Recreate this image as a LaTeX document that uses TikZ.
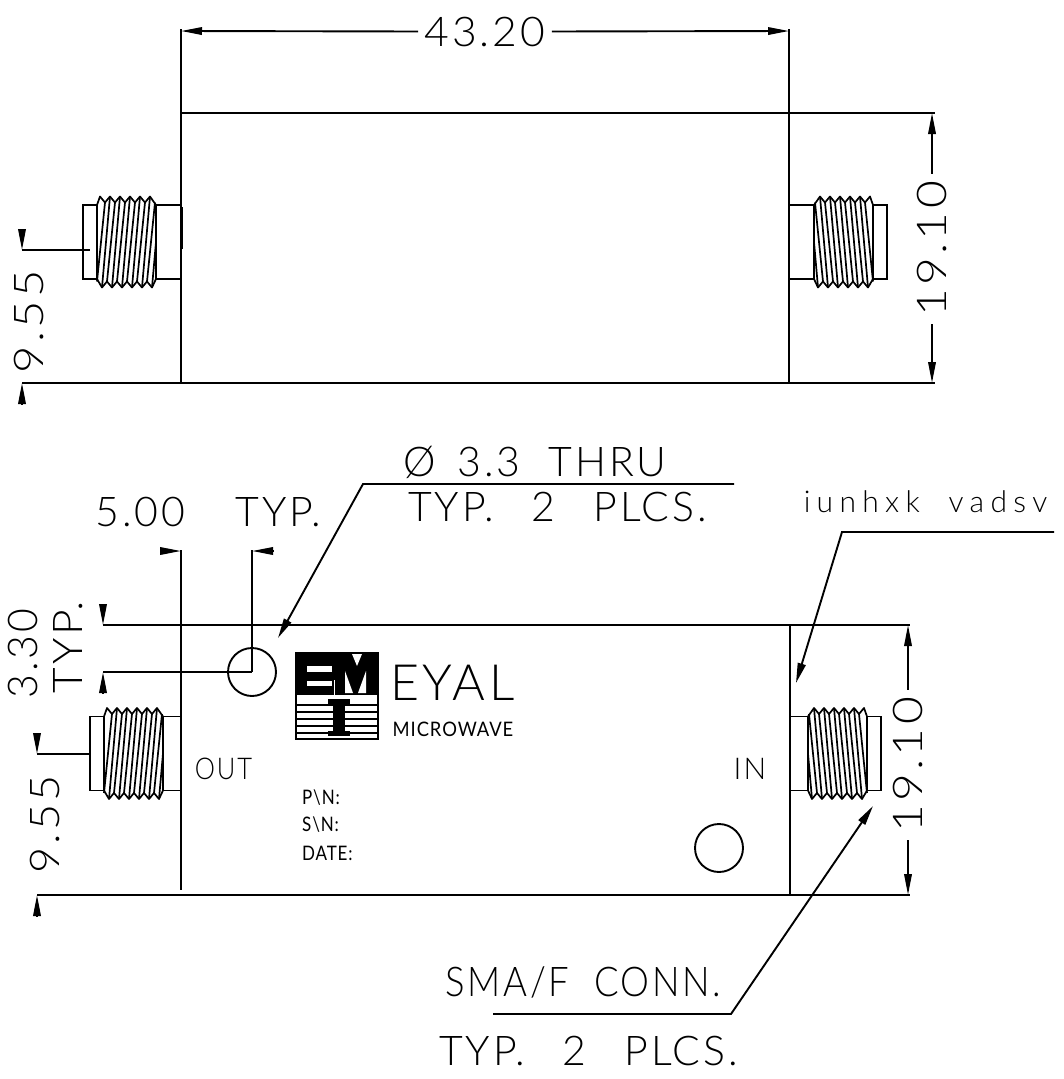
\documentclass[tikz,border=0pt]{standalone}
\usepackage{fontspec}
\newfontfamily\cadfont[LetterSpace=7]{Lato Light}
\newfontfamily\cadwide[LetterSpace=21]{Lato Light}
\newfontfamily\cadsmall[LetterSpace=5]{Lato}
\usetikzlibrary{arrows.meta}
\tikzset{
    part/.style = {
        line width=1.9pt,
        },
    thread/.style = {
        line width=1.7pt,
        },
    dim/.style = {
        line width=1.9pt,
        -{Triangle[length=21pt,width=7.5pt]},
        },
    leader/.style = {
        line width=1.9pt,
        -{Triangle[length=20pt,width=8pt]},
        },
    big label/.style = {
        font=\cadfont\fontsize{41}{41}\selectfont,
        inner ysep=0pt,
        inner xsep=6pt,
        text depth=0pt,
        },
    mid label/.style = {
        font=\cadfont\fontsize{30}{30}\selectfont,
        inner sep=0pt,
        text depth=0pt,
        },
    small label/.style = {
        font=\cadsmall\fontsize{20}{20}\selectfont,
        inner sep=0pt,
        text depth=0pt,
        },
    sma conn/.pic = {
        \draw[part] (-14,-37) rectangle (0,37);
        \draw[part] (59,-37) -- (#1,-37);
        \draw[part] (59,37) -- (#1,37);
        \draw[thread,line join=round] (0,-37) -- (3,-45.5)
            \foreach \i in {0,...,4} {-- ({8+10*\i},-39.5) -- ({13+10*\i},-45.5)} -- (59,-37);
        \draw[thread,line join=round] (0,37) -- (5,45.5)
            \foreach \i in {0,...,4} {-- ({10+10*\i},39.5) -- ({15+10*\i},45.5)} -- (59,37);
        \foreach \i in {0,...,4} {
            \draw[thread] ({5+10*\i},45.5) -- ({13+10*\i},-45.5);
        }
        \foreach \i in {0,...,5} {
            \draw[thread] ({0+10*\i},39.5) -- ({8+10*\i},-39.5);
        }
        \draw[thread] (55,45.5) -- (59,0);
        \draw[line width=2.6pt] (0,-37) -- (0,37);
        \draw[line width=2.6pt] (59,-37) -- (59,37);
    },
}
\begin{document}
\begin{tikzpicture}[x=1pt,y=-1pt]
    \useasboundingbox (0,0) rectangle (1064,1079);

    % top view
    \draw[part] (181,29) -- (181,383);
    \draw[part] (789,29) -- (789,383);
    \draw[part] (181,113) -- (935,113);
    \draw[part] (22,383) -- (935,383);
    \draw[line width=3pt] (181,207) -- (181,249);
    \pic at (97,242) {sma conn=84};
    \pic[xscale=-1] at (873,242) {sma conn=84};

    \node[big label,xscale=1.04] (widthTop) at (485,31.5) {43.20};
    \coordinate (widthTopL) at (181,31);
    \coordinate (widthTopR) at (789,31);
    \draw[dim] (widthTop.west) -- (widthTopL);
    \draw[dim] (widthTop.east) -- (widthTopR);

    \node[big label,rotate=90,xscale=1.17] (heightTop) at (932,249) {19.10};
    \coordinate (heightTopU) at (932,113);
    \coordinate (heightTopD) at (932,383);
    \draw[dim] (heightTop.east) -- (heightTopU);
    \draw[dim] (heightTop.west) -- (heightTopD);

    \node[big label,rotate=90,xscale=1.15] (midTop) at (29,322) {9.55};
    \coordinate (midTopA) at (22,229);
    \coordinate (midTopB) at (22,250);
    \coordinate (midTopC) at (22,404);
    \coordinate (midTopD) at (22,383);
    \draw[dim] (midTopA) -- (midTopB);
    \draw[part] (midTopB) -- (90,250);
    \draw[dim] (midTopC) -- (midTopD);

    % bottom view
    \draw[part] (181,550) -- (181,890);
    \draw[part] (252,550) -- (252,672);
    \draw[part] (790,625) -- (790,895);
    \draw[part] (103,625) -- (910,625);
    \draw[part] (103,672) -- (252,672);
    \draw[part] (37,895) -- (910,895);
    \draw[part] (252,672) circle (24);
    \draw[part] (719,848) circle (24);
    \pic at (104,753.5) {sma conn=77};
    \pic[xscale=-1] at (867,753.5) {sma conn=77};

    \node[big label] (holePitch) at (208.5,512) {5.00\hspace{23pt}~~TYP.};
    \coordinate (holePitchA) at (160,551);
    \coordinate (holePitchB) at (181,551);
    \coordinate (holePitchC) at (273,551);
    \coordinate (holePitchD) at (252,551);
    \draw[dim] (holePitchA) -- (holePitchB);
    \draw[dim] (holePitchC) -- (holePitchD);

    \node[big label,rotate=90] (holeEdge) at (23,653.5) {3.30};
    \node[big label,rotate=90,xscale=1.08] (holeEdgeTyp) at (68,647) {TYP.};
    \coordinate (holeEdgeA) at (103,604);
    \coordinate (holeEdgeB) at (103,625);
    \coordinate (holeEdgeC) at (103,693);
    \coordinate (holeEdgeD) at (103,672);
    \draw[dim] (holeEdgeA) -- (holeEdgeB);
    \draw[dim] (holeEdgeC) -- (holeEdgeD);

    \node[big label,rotate=90,xscale=1.1] (midLow) at (45,824.5) {9.55};
    \coordinate (midLowA) at (37,733);
    \coordinate (midLowB) at (37,754);
    \coordinate (midLowC) at (37,916);
    \coordinate (midLowD) at (37,895);
    \draw[dim] (midLowA) -- (midLowB);
    \draw[part] (midLowB) -- (90,754);
    \draw[dim] (midLowC) -- (midLowD);

    \node[big label,rotate=90,xscale=1.17] (heightLow) at (908,765) {19.10};
    \coordinate (heightLowU) at (908,625);
    \coordinate (heightLowD) at (908,895);
    \draw[dim] (heightLow.east) -- (heightLowU);
    \draw[dim] (heightLow.west) -- (heightLowD);

    % leaders
    \node[big label] (holeNote) at (535,461) {Ø\hspace{22pt}3.3~~THRU};
    \node[big label] (holeNoteTyp) at (557.5,507) {TYP.~~\hspace{10pt}2~~\hspace{10pt}PLCS.};
    \coordinate (holeLeadR) at (734,484);
    \coordinate (holeLeadK) at (363,484);
    \coordinate (holeLeadT) at (278,638);
    \draw[leader] (holeLeadR) -- (holeLeadK) -- (holeLeadT);

    \node[mid label,font=\cadwide\fontsize{30}{30}\selectfont] (sealNote) at (925.5,501.5) {iunhxk~~vadsv};
    \coordinate (sealLeadR) at (1054,532);
    \coordinate (sealLeadK) at (842,532);
    \coordinate (sealLeadT) at (796,683);
    \draw[leader] (sealLeadR) -- (sealLeadK) -- (sealLeadT);

    \node[big label,xscale=0.89] (connNote) at (583.5,982) {SMA/F~~CONN.};
    \node[big label] (connNoteTyp) at (588.5,1051) {TYP.~~\hspace{10pt}2~~\hspace{10pt}PLCS.};
    \coordinate (connLeadL) at (493,1014);
    \coordinate (connLeadK) at (731,1014);
    \coordinate (connLeadT) at (873,806);
    \draw[leader] (connLeadL) -- (connLeadK) -- (connLeadT);

    % plate text
    \node[mid label,xscale=0.85] (outLabel) at (223.5,769) {OUT};
    \node[mid label] (inLabel) at (750,769) {IN};
    \node[big label,font=\cadfont\fontsize{50}{50}\selectfont,inner xsep=0pt] (eyalLabel) at (452.5,683) {EYAL};
    \node[small label,xscale=0.92] (mwLabel) at (453,729) {MICROWAVE};
    \node[small label,anchor=west,xscale=0.85] (pnLabel) at (302,797.5) {P\textbackslash N:};
    \node[small label,anchor=west,xscale=0.85] (snLabel) at (302,824) {S\textbackslash N:};
    \node[small label,anchor=west,xscale=0.85] (dateLabel) at (302,853) {DATE:};

    % logo
    \draw[part] (296,653) rectangle (378,739);
    \fill (296,653) rectangle (378,695);
    \fill[white] (307,666) rectangle (332,672);
    \fill[white] (307,681) rectangle (332,686);
    \fill[white] (352,654) -- (362,654) -- (357,666) -- cycle;
    \fill[white] (345,671) -- (345,693) -- (353,693) -- cycle;
    \fill[white] (366,671) -- (366,693) -- (358,693) -- cycle;
    \draw[white,line width=1pt] (334,680) -- (334,695);
    \foreach \ypos in {705,712,719,726,733} {
        \draw[line width=2pt] (296,\ypos) -- (378,\ypos);
    }
    \fill (328,699) rectangle (350,705);
    \fill (333,699) rectangle (345,736);
    \fill (328,731) rectangle (350,736);
\end{tikzpicture}
\end{document}
